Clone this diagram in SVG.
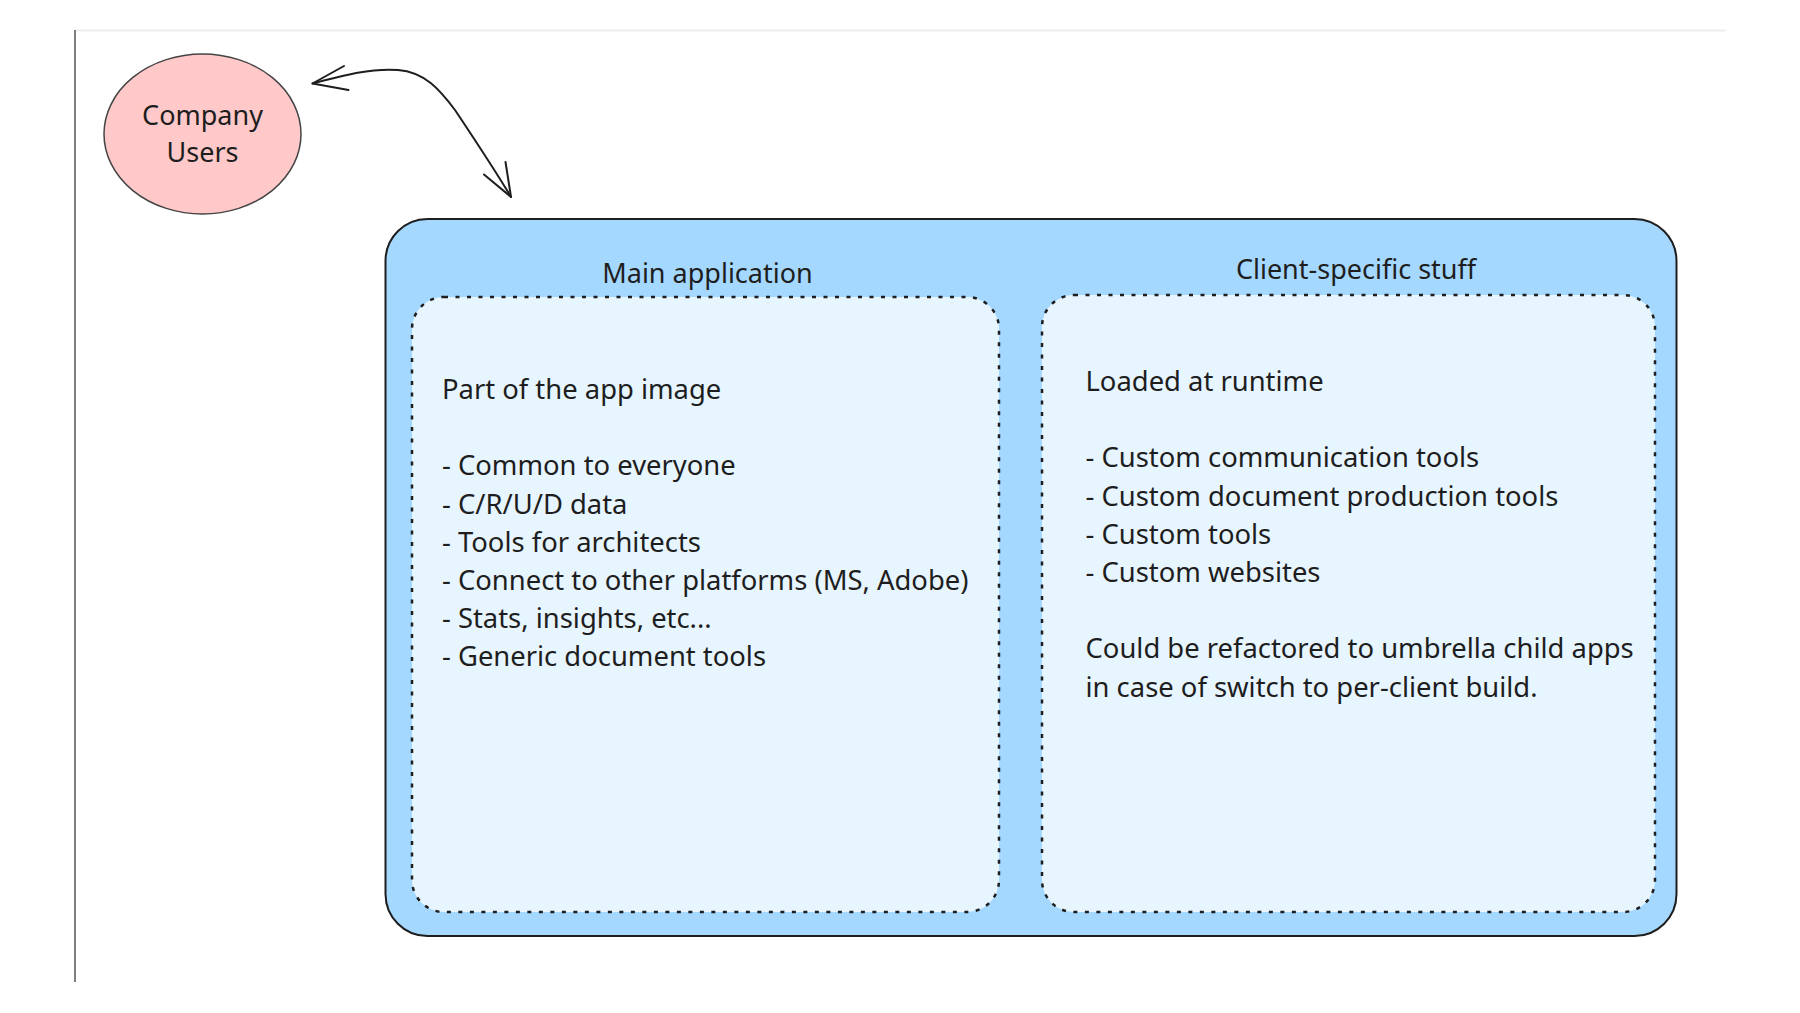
<svg xmlns="http://www.w3.org/2000/svg" width="1800" height="1013" viewBox="0 0 1800 1013">
<defs>
<style>
text { font-family: "Noto Sans", "Open Sans", "Liberation Sans", sans-serif; font-size: 27.4px; fill: #1e1e1e; }
.mid { text-anchor: middle; font-size: 27px; }
.outer { fill: #a5d8ff; stroke: #1e1e1e; stroke-width: 2; }
.inner { fill: #e7f5ff; stroke: #1e1e1e; stroke-width: 2.5; stroke-dasharray: 4 7.5; }
.conn { fill: none; stroke: #1e1e1e; stroke-width: 2; stroke-linecap: round; stroke-linejoin: round; }
</style>
</defs>
<rect width="1800" height="1013" fill="#ffffff"/>
<g id="frame">
<line x1="75" y1="30.5" x2="1726" y2="30.5" stroke="#eeeeee" stroke-width="2"/>
<line x1="75" y1="30" x2="75" y2="982" stroke="#555555" stroke-width="1.5"/>
</g>
<g id="company-users">
<ellipse cx="202.5" cy="134" rx="98.5" ry="80" fill="#ffc9c9" stroke="#444444" stroke-width="1.5"/>
<text class="mid" x="202.5" y="125">Company</text>
<text class="mid" x="202.5" y="162">Users</text>
</g>
<g id="app-container">
<rect class="outer" x="385.5" y="219" width="1291" height="717" rx="42" ry="42"/>
</g>
<g id="main-application">
<text class="mid" x="707.5" y="283">Main application</text>
<rect class="inner" x="412" y="297" width="587" height="615" rx="32" ry="32"/>
<text x="442" y="399">Part of the app image</text>
<text x="442" y="475.4">- Common to everyone</text>
<text x="442" y="513.6">- C/R/U/D data</text>
<text x="442" y="551.8">- Tools for architects</text>
<text x="442" y="590">- Connect to other platforms (MS, Adobe)</text>
<text x="442" y="628.2">- Stats, insights, etc...</text>
<text x="442" y="666.4">- Generic document tools</text>
</g>
<g id="client-specific">
<text class="mid" x="1356" y="279">Client-specific stuff</text>
<rect class="inner" x="1042" y="295" width="613" height="617" rx="32" ry="32"/>
<text x="1085.5" y="391">Loaded at runtime</text>
<text x="1085.5" y="467.4">- Custom communication tools</text>
<text x="1085.5" y="505.6">- Custom document production tools</text>
<text x="1085.5" y="543.8">- Custom tools</text>
<text x="1085.5" y="582">- Custom websites</text>
<text x="1085.5" y="658.4">Could be refactored to umbrella child apps</text>
<text x="1085.5" y="696.6">in case of switch to per-client build.</text>
</g>
<g id="connectors">
<path class="conn" d="M312.5,83.5 C345,75 372,68 398,70 C425,72 440,90 455,110 C475,140 495,170 511,197"/>
<path class="conn" d="M344,66 L312.5,83.5 L348.5,90"/>
<path class="conn" d="M484,174.5 L511,197 L505.5,162"/>
</g>
</svg>
